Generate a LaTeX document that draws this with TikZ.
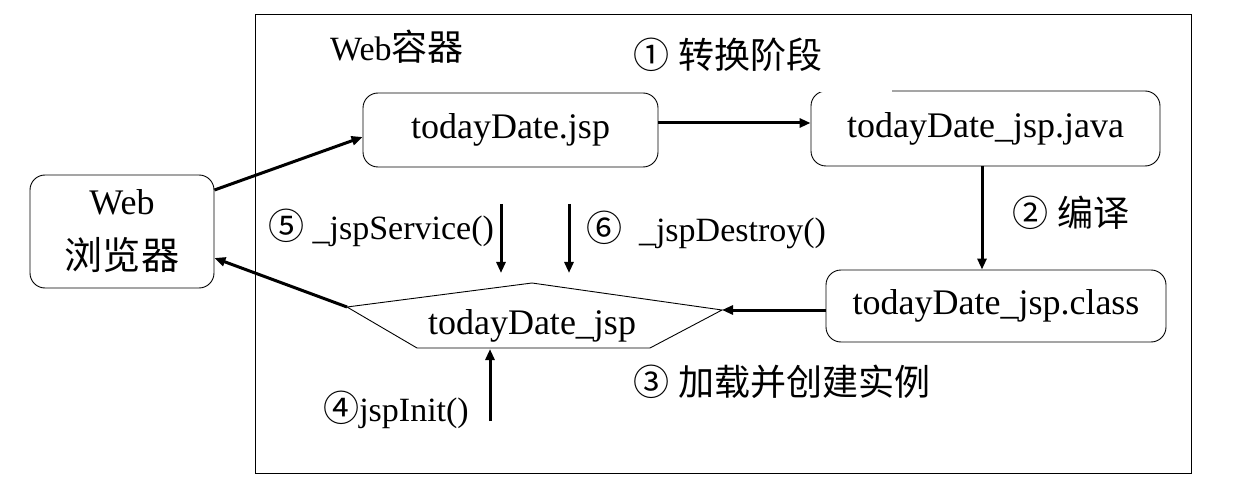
\documentclass[tikz,border=0pt]{standalone}
\usepackage{fontspec}
\setmainfont{Liberation Serif}
\newfontfamily\cjk[Scale=1.06]{Noto Sans CJK SC}
\usetikzlibrary{arrows.meta,calc}
\tikzset{
  box/.style={draw, line width=0.9pt, rounded corners=15pt, inner sep=0pt, font=\fontsize{36}{43}\selectfont},
  lbl/.style={inner sep=0pt, font=\fontsize{34}{40}\selectfont},
  arr/.style={line width=3pt, -{Triangle[length=11pt,width=9pt]}},
}
\begin{document}
\begin{tikzpicture}[x=1pt,y=-1pt]
\useasboundingbox (0,0) rectangle (1240,489);
\draw[line width=0.9pt] (255,14) rectangle (1191,473);

\node[box, minimum width=295pt, minimum height=74pt] (jsp) at (510.5,130) {todayDate.jsp};
\node[box, minimum width=349pt, minimum height=75pt] (java) at (985.5,128.5) {todayDate\_jsp.java};
\draw[white, line width=2.5pt] (820,91) -- (892,91);
\node[box, minimum width=340pt, minimum height=72pt] (cls) at (996,306) {todayDate\_jsp.class};
\node[box, minimum width=184pt, minimum height=113pt, align=center] (br) at (122,231.5) {Web\\[12pt]{\cjk 浏览器}};

\coordinate (hL) at (347,307);
\coordinate (hT) at (532,283);
\coordinate (hR) at (722,310);
\coordinate (hBR) at (650,348);
\coordinate (hBL) at (417,348);
\draw[line width=0.9pt] (hL) -- (hT) -- (hR) -- (hBR) -- (hBL) -- cycle;
\node[lbl, font=\fontsize{36}{43}\selectfont] (inst) at (532,326) {todayDate\_jsp};

\node[lbl] (cont) at (397,47) {Web{\cjk 容器}};
\node[lbl] (l1) at (728,55) {{\cjk ①} {\cjk 转换阶段}};
\node[lbl] (l2) at (1071,213) {{\cjk ②} {\cjk 编译}};
\node[lbl] (l3) at (782,382) {{\cjk ③} {\cjk 加载并创建实例}};
\node[lbl] (l5) at (381,228) {{\cjk ⑤} \_jspService()};
\node[lbl] (l6) at (706,230) {{\cjk ⑥}\ \ \_jspDestroy()};
\node[lbl] (l4) at (396,410) {{\cjk ④}jspInit()};

\coordinate (s5a) at (501,204);
\coordinate (s5b) at (501,273);
\coordinate (s6a) at (569,204);
\coordinate (s6b) at (569,273);
\coordinate (s4a) at (490,421);

\draw[arr] (jsp.east |- 0,123) -- (java.west |- 0,123);
\draw[arr] (java.south -| 982,0) -- (cls.north -| 982,0);
\draw[arr] (cls.west |- hR) -- (hR);
\draw[arr] (br.east |- 0,190) -- (jsp.west |- 0,137);
\draw[arr] (hL) -- (br.east |- 0,258);
\draw[arr] (s5a) -- (s5b);
\draw[arr] (s6a) -- (s6b);
\draw[arr] (s4a) -- (490,349);
\end{tikzpicture}
\end{document}
